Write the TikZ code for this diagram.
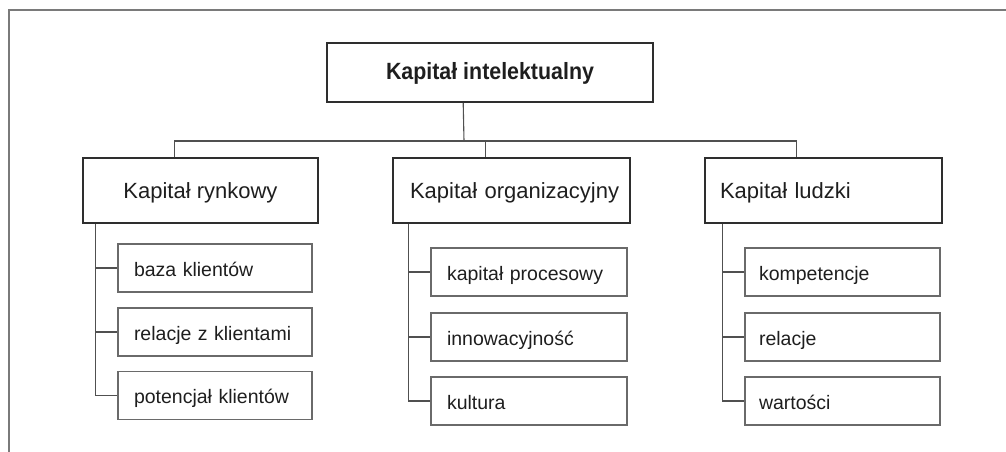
\documentclass[tikz,border=0pt]{standalone}
\usepackage{fontspec}
\setmainfont{Liberation Sans}
\definecolor{boxline}{HTML}{2E2E2E}
\definecolor{subline}{HTML}{6A6A6A}
\definecolor{connline}{HTML}{505050}
\definecolor{frameline}{HTML}{7A7A7A}
\definecolor{textc}{HTML}{1E1E1E}
\tikzset{
  titlebox/.style={draw=boxline, line width=1.6pt, minimum width=326pt, minimum height=59pt, inner sep=0pt,
    text height=14pt, text depth=1pt, font=\fontsize{23.5}{28}\selectfont\bfseries, text=textc},
  mainbox/.style={draw=boxline, line width=1.6pt, minimum height=65pt, inner ysep=0pt,
    text height=16pt, text depth=1pt, font=\fontsize{22}{26}\selectfont, text=textc},
  subbox/.style={draw=subline, line width=1.2pt, minimum height=48pt, inner ysep=0pt, inner xsep=16pt,
    text height=16pt, text depth=0pt, align=left, font=\fontsize{19.5}{23}\selectfont, text=textc},
  conn/.style={draw=connline, line width=1.1pt},
  frame/.style={draw=frameline, line width=1.5pt}
}
\begin{document}
\begin{tikzpicture}[x=1pt,y=-1pt]
\useasboundingbox (0,0) rectangle (1006,452);
\draw[frame] (9,452) -- (9,10) -- (1006,10);

\node[titlebox] (top) at (490,72.5) {\scalebox{0.91}[1]{Kapitał intelektualny}};

\node[mainbox, minimum width=235pt, inner xsep=0pt] (m1) at (200.5,190.5) {Kapitał rynkowy};
\node[mainbox, text width=203pt, inner xsep=17pt, align=left] (m2) at (511.5,190.5) {\mbox{Kapitał organizacyjny}};
\node[mainbox, text width=207pt, inner xsep=15pt, align=left] (m3) at (823.5,190.5) {Kapitał ludzki};

\node[subbox, text width=162pt] (a1) at (215,268) {baza klientów};
\node[subbox, text width=162pt] (a2) at (215,332) {relacje z klientami};
\node[subbox, text width=162pt] (a3) at (215,395.5) {potencjał klientów};

\node[subbox, text width=164pt] (b1) at (529,272) {kapitał procesowy};
\node[subbox, text width=164pt] (b2) at (529,337) {innowacyjność};
\node[subbox, text width=164pt] (b3) at (529,401) {kultura};

\node[subbox, text width=167pt, inner xsep=14pt] (c1) at (842.5,272) {kompetencje};
\node[subbox, text width=167pt, inner xsep=14pt] (c2) at (842.5,337) {relacje};
\node[subbox, text width=167pt, inner xsep=14pt] (c3) at (842.5,401) {wartości};

% top-level connectors
\coordinate (ts) at ([xshift=137pt]top.south west);
\coordinate (bus) at (464,141);
\coordinate (d1) at ([xshift=92pt]m1.north west);
\coordinate (d2) at ([xshift=93pt]m2.north west);
\coordinate (d3) at ([xshift=92pt]m3.north west);
\draw[conn] (ts) -- (bus);
\draw[conn] (d1) |- (bus) -| (d3);
\draw[conn] (d2) -- (d2 |- bus);

% trunks
\coordinate (t1) at ([xshift=13pt]m1.south west);
\coordinate (t2) at ([xshift=16pt]m2.south west);
\coordinate (t3) at ([xshift=18pt]m3.south west);
\draw[conn] (t1) |- (a1.west);
\draw[conn] (t1) |- (a2.west);
\draw[conn] (t1) |- (a3.west);
\draw[conn] (t2) |- (b1.west);
\draw[conn] (t2) |- (b2.west);
\draw[conn] (t2) |- (b3.west);
\draw[conn] (t3) |- (c1.west);
\draw[conn] (t3) |- (c2.west);
\draw[conn] (t3) |- (c3.west);
\end{tikzpicture}
\end{document}
